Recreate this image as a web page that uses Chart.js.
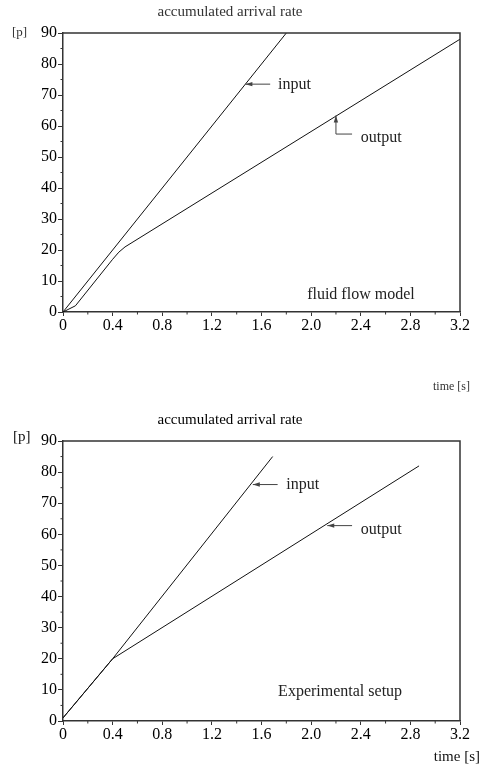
<!DOCTYPE html>
<html>
<head>
<meta charset="utf-8">
<script src="https://cdn.jsdelivr.net/npm/chart.js@4.4.1/dist/chart.umd.min.js"></script>
<style>
  body { margin: 0; background: #fff; }
  canvas { position: absolute; left: 0; }
  #c1 { top: 0; }
  #c2 { top: 400px; }
</style>
</head>
<body>
<canvas id="c1" width="480" height="400"></canvas>
<canvas id="c2" width="480" height="367"></canvas>
<script>
// fluid flow model (top)
var topInTime = [0, 1.8];
var topInput = [0, 90];
var topOutTime = [0, 0.1, 0.4, 0.45, 0.5, 3.2];
var topOutput = [0, 2, 17, 19.3, 21, 88];

// experimental setup (bottom)
var botInTime = [0, 0.4, 1.69];
var botInput = [1, 20, 85];
var botOutTime = [0, 0.4, 2.87];
var botOutput = [1, 20, 82];

// axes
var xMax = 3.2, xStep = 0.4;
var yMax = 90, yStep = 10;
var minorX = [0.2, 0.6, 1.0, 1.4, 1.8, 2.2, 2.6, 3.0];
var minorY = [5, 15, 25, 35, 45, 55, 65, 75, 85];

var serif = 'Liberation Serif, Times New Roman, serif';

function pts(xs, ys) {
  return xs.map(function (x, i) { return { x: x, y: ys[i] }; });
}

// draws frame, minor ticks, arrows and the small texts
var notesPlugin = {
  id: 'notes',
  afterDraw: function (chart, args, opt) {
    var ctx = chart.ctx, a = chart.chartArea;
    var sx = chart.scales.x, sy = chart.scales.y;
    ctx.save();
    // frame top + right
    ctx.strokeStyle = '#333';
    ctx.lineWidth = 1.5;
    ctx.beginPath();
    ctx.moveTo(a.left, a.top); ctx.lineTo(a.right, a.top); ctx.lineTo(a.right, a.bottom);
    ctx.stroke();
    // minor ticks
    ctx.lineWidth = 1;
    ctx.beginPath();
    minorX.forEach(function (v) {
      var x = sx.getPixelForValue(v);
      ctx.moveTo(x, a.bottom); ctx.lineTo(x, a.bottom + 2.5);
    });
    minorY.forEach(function (v) {
      var y = sy.getPixelForValue(v);
      ctx.moveTo(a.left, y); ctx.lineTo(a.left - 2.5, y);
    });
    ctx.stroke();
    // arrows
    ctx.strokeStyle = '#444';
    ctx.fillStyle = '#444';
    opt.arrows.forEach(function (ar) {
      var p = ar.map(function (q) { return [sx.getPixelForValue(q[0]), sy.getPixelForValue(q[1])]; });
      ctx.beginPath();
      ctx.moveTo(p[0][0], p[0][1]);
      for (var i = 1; i < p.length; i++) ctx.lineTo(p[i][0], p[i][1]);
      ctx.stroke();
      var tip = p[p.length - 1], prev = p[p.length - 2];
      var ang = Math.atan2(tip[1] - prev[1], tip[0] - prev[0]);
      ctx.beginPath();
      ctx.moveTo(tip[0], tip[1]);
      ctx.lineTo(tip[0] - 7 * Math.cos(ang) + 2.2 * Math.sin(ang), tip[1] - 7 * Math.sin(ang) - 2.2 * Math.cos(ang));
      ctx.lineTo(tip[0] - 7 * Math.cos(ang) - 2.2 * Math.sin(ang), tip[1] - 7 * Math.sin(ang) + 2.2 * Math.cos(ang));
      ctx.closePath();
      ctx.fill();
    });
    // labels in data units
    ctx.fillStyle = '#222';
    ctx.textBaseline = 'middle';
    ctx.textAlign = 'left';
    ctx.font = '16px ' + serif;
    opt.labels.forEach(function (l) {
      ctx.fillText(l.text, sx.getPixelForValue(l.at[0]), sy.getPixelForValue(l.at[1]));
    });
    // unit texts in canvas pixels
    opt.texts.forEach(function (t) {
      ctx.font = t.size + 'px ' + serif;
      ctx.textAlign = t.align;
      ctx.fillStyle = t.color;
      ctx.fillText(t.text, t.x, t.y);
    });
    ctx.restore();
  }
};

function makeChart(id, inT, inV, outT, outV, title, notes) {
  var ctx = document.getElementById(id).getContext('2d');
  return new Chart(ctx, {
    type: 'line',
    data: {
      datasets: [{
        label: 'input',
        data: pts(inT, inV),
        borderColor: '#111',
        borderWidth: 1,
        pointRadius: 0,
        tension: 0
      }, {
        label: 'output',
        data: pts(outT, outV),
        borderColor: '#111',
        borderWidth: 1,
        pointRadius: 0,
        tension: 0
      }]
    },
    options: {
      responsive: false,
      animation: false,
      devicePixelRatio: 1,
      layout: { padding: { left: 0, right: 20, top: 0, bottom: title.bottom } },
      plugins: {
        legend: { display: false },
        tooltip: { enabled: false },
        title: {
          display: true,
          text: title.text,
          color: title.color,
          font: { family: serif, size: 15, weight: 'normal', lineHeight: 1.2 },
          padding: { top: title.top, bottom: title.gap }
        },
        notes: notes
      },
      scales: {
        x: {
          type: 'linear',
          min: 0,
          max: xMax,
          afterFit: function (s) { s.height = 30; },
          grid: { drawOnChartArea: false, tickLength: 4, color: '#333' },
          border: { color: '#333', width: 1.5 },
          ticks: {
            stepSize: xStep,
            padding: 0,
            color: '#000',
            maxRotation: 0,
            font: { family: serif, size: 16 },
            callback: function (v) { return v === 0 ? '0' : v.toFixed(1); }
          }
        },
        y: {
          min: 0,
          max: yMax,
          afterFit: function (s) { s.width = 63; },
          grid: { drawOnChartArea: false, tickLength: 5, color: '#333' },
          border: { color: '#333', width: 1.5 },
          ticks: {
            stepSize: yStep,
            padding: 1,
            color: '#000',
            font: { family: serif, size: 16 }
          }
        }
      }
    },
    plugins: [notesPlugin]
  });
}

makeChart('c1', topInTime, topInput, topOutTime, topOutput,
  { text: 'accumulated arrival rate', color: '#333', top: 3, gap: 12, bottom: 58 },
  {
    arrows: [
      [[1.67, 73.5], [1.47, 73.5]],
      [[2.33, 57.4], [2.2, 57.4], [2.2, 63.4]]
    ],
    labels: [
      { text: 'input', at: [1.734, 73.3] },
      { text: 'output', at: [2.40, 56.1] },
      { text: 'fluid flow model', at: [1.968, 5.5] }
    ],
    texts: [
      { text: '[p]', x: 12, y: 33, size: 13, align: 'left', color: '#333' },
      { text: 'time [s]', x: 470, y: 387, size: 12, align: 'right', color: '#333' }
    ]
  });

makeChart('c2', botInTime, botInput, botOutTime, botOutput,
  { text: 'accumulated arrival rate', color: '#000', top: 11, gap: 12, bottom: 16 },
  {
    arrows: [
      [[1.73, 76], [1.53, 76]],
      [[2.33, 62.8], [2.13, 62.8]]
    ],
    labels: [
      { text: 'input', at: [1.8, 75.9] },
      { text: 'output', at: [2.40, 61.4] },
      { text: 'Experimental setup', at: [1.734, 9.3] }
    ],
    texts: [
      { text: '[p]', x: 13, y: 37, size: 15, align: 'left', color: '#111' },
      { text: 'time [s]', x: 480, y: 357, size: 15, align: 'right', color: '#111' }
    ]
  });
</script>
</body>
</html>
